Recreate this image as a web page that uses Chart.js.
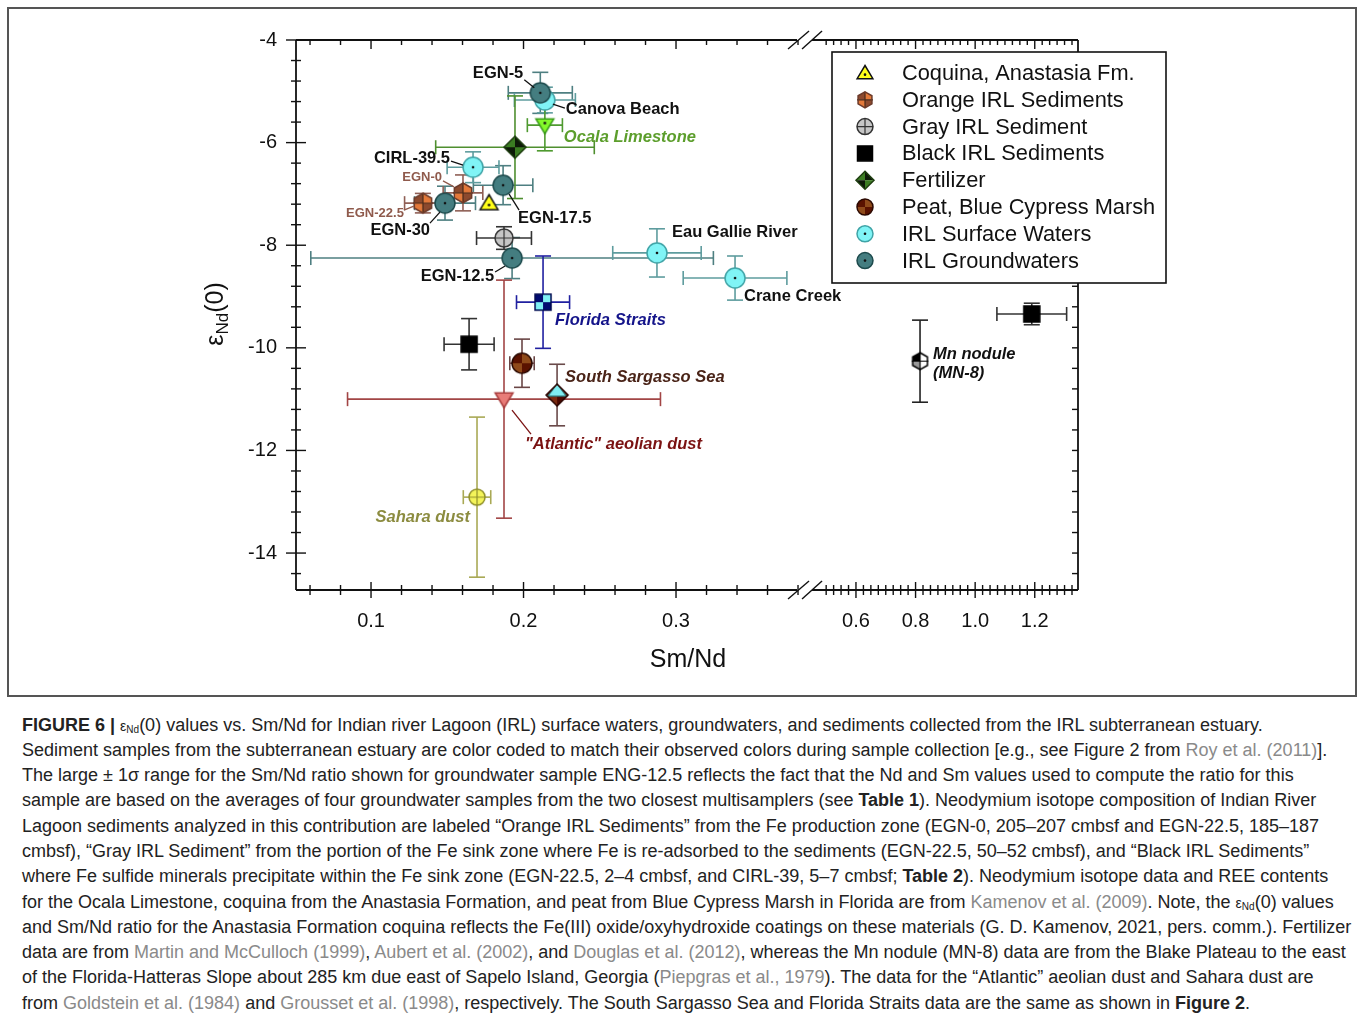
<!DOCTYPE html>
<html>
<head>
<meta charset="utf-8">
<script src="https://cdn.jsdelivr.net/npm/chart.js@4.4.1/dist/chart.umd.min.js"></script>
<style>
  body { margin: 0; background: #fff; font-family: "Liberation Sans", Arial, sans-serif; }
  #frame { position: absolute; left: 7px; top: 7px; width: 1346px; height: 686px; border: 2px solid #555; }
  #wrap { position: absolute; left: 0; top: 0; width: 1358px; height: 700px; }
  #caption { position: absolute; left: 22px; top: 712.5px; font-size: 18px; line-height: 25.3px; color: #222; white-space: nowrap; }
  #caption div { height: 25.3px; }
  #caption .ref { color: #8a8a8a; }
  #caption .eps { font-size: 14px; line-height: 0; }
  #caption sub { font-size: 10px; line-height: 0; vertical-align: -2px; }
</style>
</head>
<body>
<div id="frame"></div>
<div id="wrap"><canvas id="chart"></canvas></div>
<div id="caption">
  <div><b>FIGURE 6 |</b> <span class="eps">ε<sub>Nd</sub></span>(0) values vs. Sm/Nd for Indian river Lagoon (IRL) surface waters, groundwaters, and sediments collected from the IRL subterranean estuary.</div>
  <div>Sediment samples from the subterranean estuary are color coded to match their observed colors during sample collection [e.g., see Figure 2 from <span class="ref">Roy et al. (2011)</span>].</div>
  <div>The large ± 1σ range for the Sm/Nd ratio shown for groundwater sample ENG-12.5 reflects the fact that the Nd and Sm values used to compute the ratio for this</div>
  <div>sample are based on the averages of four groundwater samples from the two closest multisamplers (see <b>Table 1</b>). Neodymium isotope composition of Indian River</div>
  <div>Lagoon sediments analyzed in this contribution are labeled “Orange IRL Sediments” from the Fe production zone (EGN-0, 205–207 cmbsf and EGN-22.5, 185–187</div>
  <div>cmbsf), “Gray IRL Sediment” from the portion of the Fe sink zone where Fe is re-adsorbed to the sediments (EGN-22.5, 50–52 cmbsf), and “Black IRL Sediments”</div>
  <div>where Fe sulfide minerals precipitate within the Fe sink zone (EGN-22.5, 2–4 cmbsf, and CIRL-39, 5–7 cmbsf; <b>Table 2</b>). Neodymium isotope data and REE contents</div>
  <div>for the Ocala Limestone, coquina from the Anastasia Formation, and peat from Blue Cypress Marsh in Florida are from <span class="ref">Kamenov et al. (2009)</span>. Note, the <span class="eps">ε<sub>Nd</sub></span>(0) values</div>
  <div>and Sm/Nd ratio for the Anastasia Formation coquina reflects the Fe(III) oxide/oxyhydroxide coatings on these materials (G. D. Kamenov, 2021, pers. comm.). Fertilizer</div>
  <div>data are from <span class="ref">Martin and McCulloch (1999)</span>, <span class="ref">Aubert et al. (2002)</span>, and <span class="ref">Douglas et al. (2012)</span>, whereas the Mn nodule (MN-8) data are from the Blake Plateau to the east</div>
  <div>of the Florida-Hatteras Slope about 285 km due east of Sapelo Island, Georgia (<span class="ref">Piepgras et al., 1979</span>). The data for the “Atlantic” aeolian dust and Sahara dust are</div>
  <div>from <span class="ref">Goldstein et al. (1984)</span> and <span class="ref">Grousset et al. (1998)</span>, respectively. The South Sargasso Sea and Florida Straits data are the same as shown in <b>Figure 2</b>.</div>
</div>
<script>
// ---- data (Sm/Nd, eps Nd(0), 1 sigma) ----
const gwNames = ['EGN-5', 'EGN-17.5', 'EGN-30', 'EGN-12.5'];
const gwSmNd = [0.211, 0.1866, 0.1485, 0.1925];
const gwEps = [-5.03, -6.83, -7.18, -8.25];
const gwSmNdErr = [0.021, 0.0195, 0.02, 0.132];
const gwEpsErr = [0.4, 0.38, 0.33, 0.4];

const swNames = ['Canova Beach', 'CIRL-39.5', 'Eau Gallie River', 'Crane Creek'];
const swSmNd = [0.214, 0.1669, 0.2875, 0.3387];
const swEps = [-5.17, -6.48, -8.15, -8.64];
const swSmNdErr = [0.02, 0.017, 0.029, 0.034];
const swEpsErr = [0.25, 0.3, 0.47, 0.43];

const orangeNames = ['EGN-0', 'EGN-22.5'];
const orangeSmNd = [0.1603, 0.134];
const orangeEps = [-6.98, -7.18];
const orangeSmNdErr = [0.013, 0.012];
const orangeEpsErr = [0.35, 0.19];

const graySmNd = [0.1872], grayEps = [-7.86], graySmNdErr = [0.018], grayEpsErr = [0.22];
const blackSmNd = [0.1643, 1.19], blackEps = [-9.93, -9.34], blackSmNdErr = [0.0164, 0.117], blackEpsErr = [0.5, 0.21];
const coquinaSmNd = [0.1774], coquinaEps = [-7.18];
const fertSmNd = [0.1944], fertEps = [-6.09], fertSmNdErr = [0.052], fertEpsErr = [1.0];
const peatSmNd = [0.199], peatEps = [-10.3], peatSmNdErr = [0.008], peatEpsErr = [0.47];
const ocalaSmNd = [0.214], ocalaEps = [-5.66], ocalaSmNdErr = [0.0115], ocalaEpsErr = [0.5];
const floridaSmNd = [0.2128], floridaEps = [-9.11], floridaSmNdErr = [0.0174], floridaEpsErr = [0.9];
const sargassoSmNd = [0.222], sargassoEps = [-10.92], sargassoSmNdErr = [0], sargassoEpsErr = [0.6];
const atlanticSmNd = [0.1872], atlanticEps = [-11.0], atlanticSmNdErr = [0.1026], atlanticEpsErr = [2.32];
const saharaSmNd = [0.1695], saharaEps = [-12.91], saharaSmNdErr = [0.009], saharaEpsErr = [1.56];
const mnSmNd = [0.815], mnEps = [-10.26], mnSmNdErr = [0], mnEpsErr = [0.8];

const yTickLabels = ['-4', '-6', '-8', '-10', '-12', '-14'];
const xTickLabelsLeft = ['0.1', '0.2', '0.3'];
const xTickLabelsRight = ['0.6', '0.8', '1.0', '1.2'];

// broken x axis: 0.05-0.38 linear, then 0.49-1.34 compressed into the right part
function toAxis(v) { return v < 0.45 ? v : 0.418 + (v - 0.6) * 0.1954; }
const BREAK_AT = 0.3846;

const FONT = '"Liberation Sans", Arial, sans-serif';

// ---- marker drawing ----
function shapePath(g, kind, r) {
    g.beginPath();
    if (kind === 'circle') g.arc(0, 0, r, 0, Math.PI * 2);
    else if (kind === 'hex') {
        for (let i = 0; i < 6; i++) {
            const a = -Math.PI / 2 + i * Math.PI / 3;
            i ? g.lineTo(r * Math.cos(a), r * Math.sin(a)) : g.moveTo(r * Math.cos(a), r * Math.sin(a));
        }
        g.closePath();
    } else if (kind === 'diamond') {
        g.moveTo(0, -r); g.lineTo(r, 0); g.lineTo(0, r); g.lineTo(-r, 0); g.closePath();
    } else if (kind === 'square') {
        g.rect(-r, -r, 2 * r, 2 * r);
    } else if (kind === 'triUp') {
        g.moveTo(0, -r); g.lineTo(r * 1.05, r * 0.75); g.lineTo(-r * 1.05, r * 0.75); g.closePath();
    } else if (kind === 'triDown') {
        g.moveTo(0, r); g.lineTo(r * 1.05, -r * 0.75); g.lineTo(-r * 1.05, -r * 0.75); g.closePath();
    }
}

function drawMarker(g, spec, r) {
    if (spec.quads) {
        const q = spec.quads, s = r + 3;
        g.save(); shapePath(g, spec.shape, r); g.clip();
        g.fillStyle = q[0]; g.fillRect(-s, -s, s, s);
        g.fillStyle = q[1]; g.fillRect(0, -s, s, s);
        g.fillStyle = q[2]; g.fillRect(-s, 0, s, s);
        g.fillStyle = q[3]; g.fillRect(0, 0, s, s);
        g.restore();
    } else {
        shapePath(g, spec.shape, r); g.fillStyle = spec.fill; g.fill();
    }
    if (spec.cross) {
        g.beginPath(); g.moveTo(-r, 0); g.lineTo(r, 0); g.moveTo(0, -r); g.lineTo(0, r);
        g.strokeStyle = spec.crossColor || spec.stroke; g.lineWidth = 1.2; g.stroke();
    }
    if (spec.extra) spec.extra(g, r);
    shapePath(g, spec.shape, r); g.strokeStyle = spec.stroke; g.lineWidth = 1.5; g.stroke();
    if (spec.dot !== undefined) {
        g.beginPath(); g.arc(0, spec.dot * r, 1.3, 0, Math.PI * 2); g.fillStyle = '#111'; g.fill();
    }
}

function markerCanvas(spec, r) {
    const size = Math.ceil(2 * r + 6);
    const c = document.createElement('canvas');
    c.width = c.height = size;
    const g = c.getContext('2d');
    g.translate(size / 2, size / 2);
    drawMarker(g, spec, r);
    return c;
}

const styles = {
    gw: { shape: 'circle', fill: '#447d80', stroke: '#1d4a4c', dot: 0, bar: '#4e7f81' },
    sw: { shape: 'circle', fill: '#80f4f6', stroke: '#3fa3a6', dot: 0, bar: '#5e9c9e' },
    orange: { shape: 'hex', quads: ['#8d4a2e', '#e3793a', '#e3793a', '#8d4a2e'], stroke: '#6b3a2a', cross: true, crossColor: '#4a2a1a', bar: '#8f5f55' },
    gray: { shape: 'circle', fill: '#c6c6c6', stroke: '#333', cross: true, bar: '#333' },
    black: { shape: 'square', fill: '#000', stroke: '#000', bar: '#333' },
    coquina: { shape: 'triUp', fill: '#ffff1a', stroke: '#111', dot: 0.22, bar: '#333' },
    fert: { shape: 'diamond', quads: ['#3b7d22', '#0d1a08', '#0d1a08', '#3b7d22'], stroke: '#1e3e10', bar: '#4f8f2f' },
    peat: { shape: 'circle', quads: ['#5a1200', '#8f4a1a', '#8f4a1a', '#5a1200'], stroke: '#2a0800', bar: '#6a4646' },
    ocala: { shape: 'triDown', fill: '#84fa2a', stroke: '#3a9a1a', dot: -0.25, bar: '#4f9a30' },
    florida: { shape: 'square', quads: ['#000a70', '#7ff0f5', '#7ff0f5', '#000a70'], stroke: '#000a50', bar: '#2020a0' },
    sargasso: {
        shape: 'diamond', quads: ['#4a0800', '#7a2a10', '#7a2a10', '#4a0800'], stroke: '#2a0500', bar: '#6a4a4a',
        extra: (g, r) => {
            g.beginPath(); g.moveTo(0, -r); g.lineTo(r * 0.85, r * 0.1); g.lineTo(-r * 0.85, r * 0.1); g.closePath();
            g.fillStyle = '#80eef2'; g.fill(); g.strokeStyle = '#2f6f70'; g.lineWidth = 1.2; g.stroke();
        }
    },
    atlantic: { shape: 'triDown', fill: '#e87c78', stroke: '#a83c3c', bar: '#a24545' },
    sahara: { shape: 'circle', fill: '#f4f45a', stroke: '#8f8f2a', cross: true, bar: '#a9a955' },
    mn: { shape: 'hex', quads: ['#000', '#fff', '#9a9a9a', '#fff'], stroke: '#000', cross: true, crossColor: '#000', bar: '#222' }
};

const plotRadius = { gw: 10, sw: 10, orange: 10, gray: 9, black: 8, coquina: 8.5, fert: 11, peat: 10, ocala: 8.5, florida: 8, sargasso: 11, atlantic: 8.5, sahara: 8, mn: 8.5 };

function series(key, xs, ys, xe, ye) {
    const st = styles[key];
    return {
        key,
        data: xs.map((x, i) => ({ x: toAxis(x), y: ys[i], sx: x })),
        xErr: xe || xs.map(() => 0),
        yErr: ye || xs.map(() => 0),
        barColor: st.bar,
        pointStyle: markerCanvas(st, plotRadius[key]),
        clip: false
    };
}

const datasets = [
    series('gw', gwSmNd, gwEps, gwSmNdErr, gwEpsErr),
    series('sw', swSmNd, swEps, swSmNdErr, swEpsErr),
    series('orange', orangeSmNd, orangeEps, orangeSmNdErr, orangeEpsErr),
    series('gray', graySmNd, grayEps, graySmNdErr, grayEpsErr),
    series('black', blackSmNd, blackEps, blackSmNdErr, blackEpsErr),
    series('coquina', coquinaSmNd, coquinaEps),
    series('fert', fertSmNd, fertEps, fertSmNdErr, fertEpsErr),
    series('peat', peatSmNd, peatEps, peatSmNdErr, peatEpsErr),
    series('ocala', ocalaSmNd, ocalaEps, ocalaSmNdErr, ocalaEpsErr),
    series('florida', floridaSmNd, floridaEps, floridaSmNdErr, floridaEpsErr),
    series('sargasso', sargassoSmNd, sargassoEps, sargassoSmNdErr, sargassoEpsErr),
    series('atlantic', atlanticSmNd, atlanticEps, atlanticSmNdErr, atlanticEpsErr),
    series('sahara', saharaSmNd, saharaEps, saharaSmNdErr, saharaEpsErr),
    series('mn', mnSmNd, mnEps, mnSmNdErr, mnEpsErr)
];

// point labels: offsets from the point in px, optional leader line
const B16 = 'bold 16.5px ' + FONT, I16 = 'italic bold 16.5px ' + FONT, B13 = 'bold 13px ' + FONT;
const notes = [
    { key: 'gw', i: 0, text: gwNames[0], dx: -17, dy: -19, align: 'right', font: B16, color: '#111', leader: [-16, -13, -6, -5] },
    { key: 'sw', i: 0, text: swNames[0], dx: 21, dy: 9, align: 'left', font: B16, color: '#111', leader: [8, 4, 20, 8] },
    { key: 'ocala', i: 0, text: 'Ocala Limestone', dx: 19, dy: 12, align: 'left', font: I16, color: '#5c9e2c' },
    { key: 'sw', i: 1, text: swNames[1], dx: -23, dy: -9, align: 'right', font: B16, color: '#111', leader: [-22, -6, -10, -2] },
    { key: 'orange', i: 0, text: orangeNames[0], dx: -21, dy: -15, align: 'right', font: B13, color: '#8f5a4c', leader: [-20, -12, -9, -6] },
    { key: 'orange', i: 1, text: orangeNames[1], dx: -19, dy: 10, align: 'right', font: B13, color: '#8f5a4c', leader: [-19, 7, -9, 3] },
    { key: 'gw', i: 2, text: gwNames[2], dx: -15, dy: 27, align: 'right', font: B16, color: '#111', leader: [-15, 20, -5, 9] },
    { key: 'gw', i: 1, text: gwNames[1], dx: 15, dy: 33, align: 'left', font: B16, color: '#111', leader: [6, 9, 16, 25] },
    { key: 'sw', i: 2, text: swNames[2], dx: 15, dy: -20, align: 'left', font: B16, color: '#111' },
    { key: 'gw', i: 3, text: gwNames[3], dx: -18, dy: 18, align: 'right', font: B16, color: '#111', leader: [-17, 14, -7, 8] },
    { key: 'sw', i: 3, text: swNames[3], dx: 9, dy: 18, align: 'left', font: B16, color: '#111' },
    { key: 'florida', i: 0, text: 'Florida Straits', dx: 12, dy: 18, align: 'left', font: I16, color: '#14148a' },
    { key: 'sargasso', i: 0, text: 'South Sargasso Sea', dx: 8, dy: -18, align: 'left', font: I16, color: '#4a2418' },
    { key: 'atlantic', i: 0, text: '"Atlantic" aeolian dust', dx: 21, dy: 45, align: 'left', font: I16, color: '#7a1212', leader: [8, 11, 27, 35], leaderColor: '#7a1212' },
    { key: 'sahara', i: 0, text: 'Sahara dust', dx: -7, dy: 20, align: 'right', font: I16, color: '#8c8c40' },
    { key: 'mn', i: 0, text: 'Mn nodule', dx: 13, dy: -7, align: 'left', font: I16, color: '#111' },
    { key: 'mn', i: 0, text: '(MN-8)', dx: 13, dy: 12, align: 'left', font: I16, color: '#111' }
];

const legendItems = [
    ['coquina', 'Coquina, Anastasia Fm.'],
    ['orange', 'Orange IRL Sediments'],
    ['gray', 'Gray IRL Sediment'],
    ['black', 'Black IRL Sediments'],
    ['fert', 'Fertilizer'],
    ['peat', 'Peat, Blue Cypress Marsh'],
    ['sw', 'IRL Surface Waters'],
    ['gw', 'IRL Groundwaters']
];
const legendRadius = { coquina: 7.5, orange: 8, gray: 8, black: 7.5, fert: 9, peat: 8, sw: 8, gw: 8 };

function line(ctx, x1, y1, x2, y2) { ctx.beginPath(); ctx.moveTo(x1, y1); ctx.lineTo(x2, y2); ctx.stroke(); }

const errorBars = {
    id: 'errorBars',
    beforeDatasetsDraw(chart) {
        const { ctx, scales: { x, y } } = chart;
        ctx.save();
        ctx.lineWidth = 1.6;
        chart.data.datasets.forEach(ds => {
            ctx.strokeStyle = ds.barColor;
            ds.data.forEach((p, i) => {
                const px = x.getPixelForValue(p.x), py = y.getPixelForValue(p.y);
                const xe = ds.xErr[i], ye = ds.yErr[i];
                if (xe > 0) {
                    const x0 = x.getPixelForValue(toAxis(p.sx - xe)), x1 = x.getPixelForValue(toAxis(p.sx + xe));
                    line(ctx, x0, py, x1, py);
                    line(ctx, x0, py - 7, x0, py + 7);
                    line(ctx, x1, py - 7, x1, py + 7);
                }
                if (ye > 0) {
                    const y0 = y.getPixelForValue(p.y + ye), y1 = y.getPixelForValue(p.y - ye);
                    line(ctx, px, y0, px, y1);
                    line(ctx, px - 8, y0, px + 8, y0);
                    line(ctx, px - 8, y1, px + 8, y1);
                }
            });
        });
        ctx.restore();
    }
};

const axesPlugin = {
    id: 'axesFrame',
    beforeDatasetsDraw(chart) {
        const { ctx, chartArea: a, scales: { x, y } } = chart;
        const bx = x.getPixelForValue(BREAK_AT);
        ctx.save();
        ctx.strokeStyle = '#111';
        ctx.lineWidth = 1.8;
        // frame with break gaps
        line(ctx, a.left, a.top, a.left, a.bottom);
        line(ctx, a.right, a.top, a.right, a.bottom);
        line(ctx, a.left, a.bottom, bx - 8, a.bottom);
        line(ctx, bx + 7, a.bottom, a.right, a.bottom);
        line(ctx, a.left, a.top, bx - 8, a.top);
        line(ctx, bx + 7, a.top, a.right, a.top);
        ctx.lineWidth = 1.4;
        [a.top, a.bottom].forEach(yy => {
            line(ctx, bx - 17, yy + 9, bx + 4, yy - 9);
            line(ctx, bx - 3, yy + 9, bx + 17, yy - 9);
        });
        // y ticks every 0.4, labels on even integers
        ctx.lineWidth = 1.4;
        ctx.fillStyle = '#111';
        ctx.font = '20px ' + FONT;
        ctx.textAlign = 'right';
        ctx.textBaseline = 'middle';
        for (let k = 0; k <= 26; k++) {
            const v = -4 - 0.4 * k;
            const py = y.getPixelForValue(v);
            const major = k % 5 === 0;
            const len = major ? 10 : 5;
            line(ctx, a.left - len, py, a.left + len, py);
            if (py > 283 || py < 52) line(ctx, a.right - 6, py, a.right, py);
            if (major) ctx.fillText(yTickLabels[k / 5], a.left - 19, py);
        }
        // x ticks, left panel
        ctx.textAlign = 'center';
        for (let k = 3; k <= 19; k++) {
            const px = x.getPixelForValue(k * 0.02);
            const major = k % 5 === 0;
            const len = major ? 8 : 5;
            line(ctx, px, a.bottom - len, px, a.bottom + len);
            line(ctx, px, a.top, px, a.top + (major ? 9 : 5));
            if (major) ctx.fillText(xTickLabelsLeft[k / 5 - 1], px, a.bottom + 31);
        }
        // x ticks, right panel
        for (let k = 20; k <= 53; k++) {
            const v = k * 0.025;
            const px = x.getPixelForValue(toAxis(v));
            if (px > a.right - 2) break;
            const major = k % 8 === 0;
            const len = major ? 8 : 5;
            line(ctx, px, a.bottom - len, px, a.bottom + len);
            line(ctx, px, a.top, px, a.top + (major ? 9 : 5));
            if (major) ctx.fillText(xTickLabelsRight[k / 8 - 3], px, a.bottom + 31);
        }
        // axis titles
        ctx.font = '25px ' + FONT;
        ctx.fillText('Sm/Nd', 688, 660);
        ctx.translate(216, 314);
        ctx.rotate(-Math.PI / 2);
        ctx.textAlign = 'left';
        ctx.font = '25px ' + FONT;
        const w1 = ctx.measureText('ε').width;
        ctx.font = '17px ' + FONT;
        const w2 = ctx.measureText('Nd').width;
        ctx.font = '25px ' + FONT;
        const w3 = ctx.measureText('(0)').width;
        let sx = -(w1 + w2 + w3) / 2;
        ctx.fillText('ε', sx, 0);
        ctx.font = '17px ' + FONT;
        ctx.fillText('Nd', sx + w1, 7);
        ctx.font = '25px ' + FONT;
        ctx.fillText('(0)', sx + w1 + w2, 0);
        ctx.restore();
    }
};

const notesPlugin = {
    id: 'notes',
    afterDatasetsDraw(chart) {
        const { ctx, scales: { x, y } } = chart;
        ctx.save();
        ctx.textBaseline = 'middle';
        notes.forEach(n => {
            const ds = chart.data.datasets.find(d => d.key === n.key);
            const p = ds.data[n.i];
            const px = x.getPixelForValue(p.x), py = y.getPixelForValue(p.y);
            if (n.leader) {
                ctx.strokeStyle = n.leaderColor || n.color;
                ctx.lineWidth = 1.3;
                line(ctx, px + n.leader[0], py + n.leader[1], px + n.leader[2], py + n.leader[3]);
            }
            ctx.font = n.font;
            ctx.fillStyle = n.color;
            ctx.textAlign = n.align;
            ctx.fillText(n.text, px + n.dx, py + n.dy);
        });
        ctx.restore();
    }
};

const legendPlugin = {
    id: 'boxLegend',
    afterDraw(chart) {
        const { ctx } = chart;
        ctx.save();
        ctx.fillStyle = '#fff';
        ctx.fillRect(832, 52, 334, 231);
        ctx.strokeStyle = '#111';
        ctx.lineWidth = 1.6;
        ctx.strokeRect(832, 52, 334, 231);
        ctx.font = '21.8px ' + FONT;
        ctx.fillStyle = '#111';
        ctx.textBaseline = 'middle';
        ctx.textAlign = 'left';
        legendItems.forEach(([key, label], i) => {
            const cy = 73 + i * 26.8;
            ctx.save();
            ctx.translate(865, cy);
            drawMarker(ctx, styles[key], legendRadius[key]);
            ctx.restore();
            ctx.fillStyle = '#111';
            ctx.fillText(label, 902, cy + 1);
        });
        ctx.restore();
    }
};

new Chart(document.getElementById('chart'), {
    type: 'scatter',
    data: { datasets },
    options: {
        responsive: true,
        maintainAspectRatio: false,
        animation: false,
        events: [],
        layout: { padding: { left: 296, right: 280, top: 40, bottom: 110 } },
        scales: {
            x: { type: 'linear', min: 0.0508, max: 0.5636, display: false },
            y: { type: 'linear', min: -14.72, max: -4, display: false }
        },
        plugins: { legend: { display: false }, tooltip: { enabled: false } }
    },
    plugins: [axesPlugin, errorBars, notesPlugin, legendPlugin]
});
</script>
</body>
</html>
